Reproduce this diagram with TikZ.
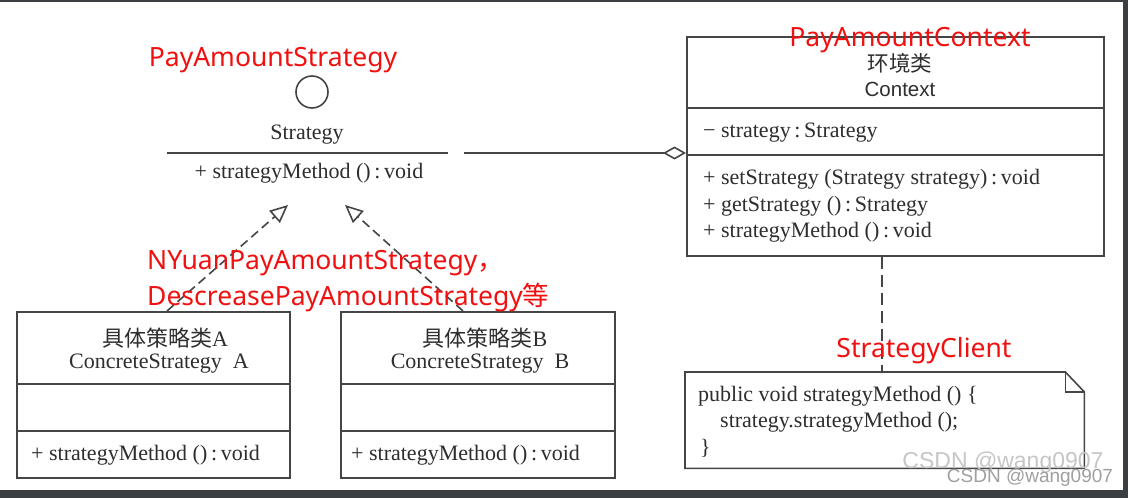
\documentclass[tikz,border=0pt]{standalone}
\usepackage{fontspec}
\setmainfont{Liberation Serif}
\newfontfamily\redf{Noto Sans}
\newfontfamily\cjk{Noto Sans CJK SC}
\newfontfamily\wmf{Liberation Sans}
\usetikzlibrary{arrows.meta}
\definecolor{framec}{HTML}{3C3F41}
\definecolor{lc}{HTML}{454545}
\definecolor{tc}{HTML}{2E2E2E}
\definecolor{redc}{HTML}{F01010}
\begin{document}
\begin{tikzpicture}[x=1pt,y=-1pt,
  ln/.style={draw=lc, line width=1.6pt},
  cls/.style={ln, rectangle, inner sep=0pt, anchor=north west},
  bt/.style={font=\fontsize{22}{26}\selectfont, inner sep=0pt, text=tc},
  lt/.style={bt, anchor=west},
  ck/.style={font=\cjk\fontsize{22}{26}\selectfont},
  rt/.style={font=\redf\fontsize{26.5}{30}\selectfont, text=redc, inner sep=0pt},
  dsh/.style={ln, dash pattern=on 9pt off 5pt},
  gen/.style={dsh, -{Triangle[open, length=18pt, width=16pt, line width=1.6pt]}},
  wm/.style={font=\wmf, inner sep=0pt}]
\fill[framec] (0,0) rectangle (1128,498);
\fill[white] (0,2) rectangle (1123,490);
\useasboundingbox (0,0) rectangle (1128,498);

% interface Strategy
\node[ln, circle, minimum size=32pt, inner sep=0pt] (I) at (312,92) {};
\node[bt] (sname) at (307,135) {Strategy};
\node[inner sep=0pt, minimum width=281pt, minimum height=60pt, anchor=north west] (S) at (167,153) {};
\draw[ln] (S.north west) -- (S.north east);
\node[bt] (smeth) at (309,173) {+ strategyMethod ()\,:\,void};
\node[rt] (rS) at (273,60.5) {PayAmountStrategy};

% Context
\node[cls, minimum width=417pt, minimum height=219pt] (C) at (686,36) {};
\draw[ln] (C.west |- 0,108) -- (C.east |- 0,108);
\draw[ln] (C.west |- 0,155) -- (C.east |- 0,155);
\node[bt, ck, font=\cjk\fontsize{21.5}{25}\selectfont] (c1) at (900,63) {环境类};
\node[bt, font=\wmf\fontsize{20.5}{24}\selectfont] (c2) at (900,89) {Context};
\node[lt] (c3) at (703,133) {− strategy\,:\,Strategy};
\node[lt] (c4) at (703,179) {+ setStrategy (Strategy strategy)\,:\,void};
\node[lt] (c5) at (703,206) {+ getStrategy ()\,:\,Strategy};
\node[lt] (c6) at (703,232) {+ strategyMethod ()\,:\,void};
\node[rt] (rC) at (910,40.5) {PayAmountContext};

% aggregation
\coordinate (as) at (464,153);
\draw[ln, -{Diamond[open, length=23pt, width=13pt, line width=1.6pt]}] (as) -- (as -| C.west);

% concrete strategies
\node[cls, minimum width=273pt, minimum height=166pt] (A) at (16,311) {};
\draw[ln] (A.west |- 0,384) -- (A.east |- 0,384);
\draw[ln] (A.west |- 0,431) -- (A.east |- 0,431);
\node[bt] (a1) at (165,338) {{\cjk\fontsize{22}{26}\selectfont 具体策略类}A};
\node[bt] (a2) at (159,364) {ConcreteStrategy\ \ A};
\node[lt] (a3) at (31,455) {+ strategyMethod ()\,:\,void};

\node[cls, minimum width=274pt, minimum height=166pt] (B) at (340,311) {};
\draw[ln] (B.west |- 0,384) -- (B.east |- 0,384);
\draw[ln] (B.west |- 0,431) -- (B.east |- 0,431);
\node[bt] (b1) at (485,338) {{\cjk\fontsize{22}{26}\selectfont 具体策略类}B};
\node[bt] (b2) at (480,364) {ConcreteStrategy\ \ B};
\node[lt] (b3) at (351,455) {+ strategyMethod ()\,:\,void};

% generalizations
\coordinate (tipA) at (288,205);
\coordinate (tipB) at (345,205);
\draw[gen] ([xshift=151pt]A.north west) -- (tipA);
\draw[gen] ([xshift=123pt]B.north west) -- (tipB);

\node[rt, anchor=west] (rN) at (147,263.5) {NYuanPayAmountStrategy{\cjk ，}};
\node[rt, anchor=west] (rD) at (147,297.5) {DescreasePayAmountStrategy{\cjk 等}};

% note
\node[inner sep=0pt, minimum width=399pt, minimum height=96pt, anchor=north west] (N) at (685,372) {};
\draw[ln] (N.north west) -- ([xshift=-19pt]N.north east) -- ([yshift=-20pt]N.north east) -- (N.south east) -- (N.south west) -- cycle;
\draw[ln] ([xshift=-19pt]N.north east) |- ([yshift=-20pt]N.north east);
\draw[ln, dash pattern=on 12pt off 6pt] ([xshift=-13.5pt]C.south) -- ([xshift=-13.5pt]C.south |- N.north);
\node[lt] (n1) at (698,396) {public void strategyMethod () \{};
\node[lt] (n2) at (720,422) {strategy.strategyMethod ();};
\node[lt] (n3) at (700,448) {\}};
\node[rt] (rSC) at (924,350.5) {StrategyClient};

% watermarks
\node[wm, font=\wmf\fontsize{23}{26}\selectfont, text=gray!45] (w1) at (1003,463) {CSDN @wang0907};
\node[wm, font=\wmf\fontsize{19}{22}\selectfont, text=gray!75] (w2) at (1030,478) {CSDN @wang0907};
\end{tikzpicture}
\end{document}
